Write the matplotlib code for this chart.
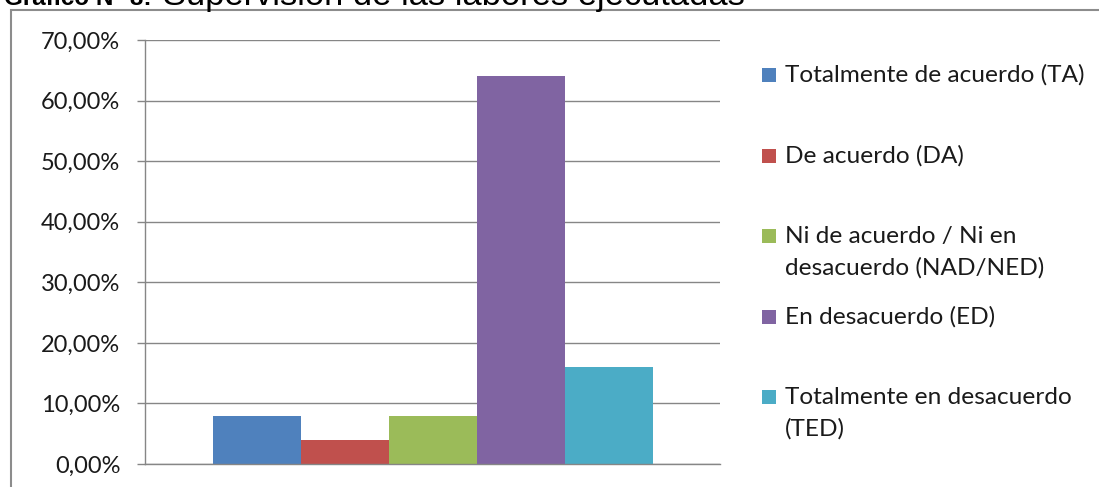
"""Gráfico N° 8: Supervisión de las labores ejecutadas."""

import matplotlib as mpl
import matplotlib.pyplot as plt
from matplotlib.patches import Rectangle
from matplotlib.ticker import FuncFormatter, MultipleLocator

mpl.rcParams.update({"font.family": ["Lato", "DejaVu Sans"]})

LABELS = [
    "Totalmente de acuerdo (TA)",
    "De acuerdo (DA)",
    "Ni de acuerdo / Ni en\ndesacuerdo (NAD/NED)",
    "En desacuerdo (ED)",
    "Totalmente en desacuerdo\n(TED)",
]
VALUES = [0.08, 0.04, 0.08, 0.64, 0.16]
COLORS = ["#4F81BD", "#C0504D", "#9BBB59", "#8064A2", "#4BACC6"]

GRID = "#868686"
TXT = "#1a1a1a"
W, H = 1099, 487


def px(x, y):
    # pixel (from top-left) -> figure fraction
    return x / W, 1 - y / H


def main():
    fig = plt.figure(figsize=(W / 100, H / 100), dpi=100)

    # outer chart frame (partly outside the crop)
    fig.patches.append(
        Rectangle(px(11, 600), (W + 20) / W, 590 / H, transform=fig.transFigure,
                  fill=False, edgecolor="#8C8C8C", lw=1.5)
    )

    # title, cut off at the top edge like the original
    fig.text(*px(152, 5), "Gráfico N° 8:", family="Liberation Sans",
             fontweight="bold", fontsize=17.5, va="baseline", ha="right")
    fig.text(*px(163, 5), "Supervisión de las labores ejecutadas",
             family="Liberation Sans", fontsize=24.8, va="baseline", ha="left")

    l, b = px(145, 464)
    r, t = px(720, 40)
    ax = fig.add_axes([l, b, r - l, t - b])

    bw = 88 / 575
    n = len(VALUES)
    xs = [(i - (n - 1) / 2) * bw for i in range(n)]
    ax.bar(xs, VALUES, width=bw, color=COLORS, edgecolor="none", zorder=2)

    ax.set_xlim(-0.5, 0.5)
    ax.set_ylim(0, 0.70)
    ax.yaxis.set_major_locator(MultipleLocator(0.10))
    ax.yaxis.set_major_formatter(
        FuncFormatter(lambda v, _: f"{v * 100:.2f}%".replace(".", ","))
    )
    ax.set_xticks([])
    ax.grid(axis="y", color=GRID, lw=1, zorder=0)
    for s in ("top", "right"):
        ax.spines[s].set_visible(False)
    for s in ("left", "bottom"):
        ax.spines[s].set_color(GRID)
        ax.spines[s].set_linewidth(1)
    ax.tick_params(axis="y", length=5.8, width=1, color=GRID, labelsize=17,
                   labelcolor=TXT, pad=12)

    # legend, drawn by hand so multi-line entries align like the original
    for i, (lab, c) in enumerate(zip(LABELS, COLORS)):
        base = 82 + 80.5 * i
        fig.patches.append(Rectangle(px(762, base), 14 / W, 14 / H,
                                     transform=fig.transFigure,
                                     facecolor=c, edgecolor="none"))
        for j, line in enumerate(lab.split("\n")):
            fig.text(*px(785, base + 32 * j), line, fontsize=17.6,
                     va="baseline", ha="left", color=TXT)

    fig.savefig("out.png", dpi=100)


if __name__ == "__main__":
    main()
